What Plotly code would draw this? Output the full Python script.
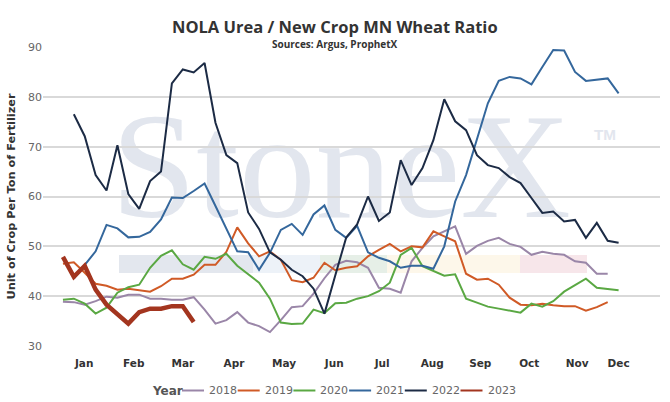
import base64
import plotly.graph_objects as go

# ---------------- data ----------------
weeks_2018 = list(range(1, 52))
y_2018 = [38.9, 38.8, 38.3, 39.0, 39.9, 39.7, 40.3, 40.3, 39.5, 39.5,
          39.3, 39.3, 39.8, 37.3, 34.5, 35.2, 36.8, 34.7, 34.0, 32.8,
          35.2, 37.8, 38.0, 40.5, 43.6, 46.3, 47.1, 46.8, 45.7, 41.7,
          41.5, 40.7, 47.0, 49.7, 52.0, 53.0, 54.0, 48.5, 50.1, 51.1,
          51.7, 50.5, 49.9, 48.3, 48.9, 48.5, 48.3, 47.0, 46.7, 44.5,
          44.5]

weeks_2019 = list(range(1, 52))
y_2019 = [46.5, 46.8, 44.7, 42.5, 42.1, 41.3, 41.5, 41.2, 40.9, 42.0,
          43.5, 43.5, 44.3, 46.3, 46.3, 48.9, 53.8, 50.6, 48.0, 49.0,
          47.3, 43.2, 42.8, 43.7, 46.7, 45.2, 45.7, 46.0, 48.0, 49.3,
          50.5, 49.0, 50.0, 49.8, 53.0, 52.0, 51.0, 44.5, 43.3, 43.5,
          42.3, 39.7, 38.3, 38.2, 38.5, 38.2, 38.0, 38.0, 37.1, 37.8,
          38.8]

weeks_2020 = list(range(1, 53))
y_2020 = [39.3, 39.5, 38.5, 36.5, 37.7, 40.7, 41.8, 42.3, 45.7, 48.1,
          49.2, 46.4, 45.3, 47.9, 47.5, 48.5, 46.1, 44.4, 42.7, 39.5,
          34.7, 34.4, 34.5, 37.3, 36.6, 38.6, 38.7, 39.5, 40.0, 41.0,
          42.7, 48.3, 49.7, 46.0, 45.0, 44.1, 44.4, 39.5, 38.7, 37.9,
          37.5, 37.1, 36.7, 38.5, 37.9, 39.0, 40.9, 42.2, 43.5, 41.7,
          41.5, 41.2]

weeks_2021 = list(range(2, 53))
y_2021 = [43.5, 46.3, 49.0, 54.3, 53.6, 51.8, 51.9, 52.9, 55.4, 59.8,
          59.7, 61.1, 62.6, 58.1, 53.6, 49.0, 48.8, 45.3, 48.7, 53.3,
          54.5, 52.3, 56.4, 58.2, 53.3, 51.7, 54.1, 48.8, 47.7, 47.0,
          45.7, 46.1, 46.1, 45.5, 50.0, 59.0, 64.3, 71.3, 78.7, 83.2,
          84.0, 83.7, 82.5, 86.0, 89.4, 89.3, 85.0, 83.2, 83.4, 83.7,
          80.7]

weeks_2022 = list(range(2, 53))
y_2022 = [76.5, 72.1, 64.3, 61.2, 70.3, 60.5, 57.5, 63.1, 65.0, 82.7,
          85.5, 84.9, 86.8, 74.8, 68.3, 66.7, 56.8, 53.5, 48.8, 47.3,
          45.3, 44.0, 41.5, 36.5, 44.2, 51.8, 54.4, 60.0, 55.1, 56.8,
          67.3, 62.3, 65.7, 71.3, 79.5, 75.1, 73.3, 68.3, 66.3, 65.7,
          63.9, 62.7, 59.7, 56.7, 57.0, 55.0, 55.3, 51.7, 54.7, 51.1,
          50.7]

weeks_2023 = list(range(1, 14))
y_2023 = [47.9, 43.9, 46.1, 41.3, 38.3, 36.5, 34.5, 36.8, 37.5, 37.5,
          38.0, 38.0, 34.8]

month_labels = ["Jan", "Feb", "Mar", "Apr", "May", "Jun",
                "Jul", "Aug", "Sep", "Oct", "Nov", "Dec"]
month_weeks = [2.95, 7.5, 12.0, 16.7, 21.3, 25.9, 30.3, 34.9, 39.3, 43.8, 48.2, 52.0]

y_ticks = [30, 40, 50, 60, 70, 80, 90]

series = [
    ("2018", weeks_2018, y_2018, "#9a86a8", 2),
    ("2019", weeks_2019, y_2019, "#d05a26", 2),
    ("2020", weeks_2020, y_2020, "#5aa843", 2),
    ("2021", weeks_2021, y_2021, "#34679c", 2),
    ("2022", weeks_2022, y_2022, "#1c2b45", 2),
    ("2023", weeks_2023, y_2023, "#a3351f", 4.5),
]

# ---------------- layout geometry (pixels) ----------------
W, H = 670, 402
ML, MR, MT, MB = 43, 10, 47, 56
PW, PH = W - ML - MR, H - MT - MB


def px_x(p):
    return (p - ML) / PW


def px_y(p):
    return (H - MB - p) / PH


# ---------------- figure ----------------
fig = go.Figure()
for name, xs, ys, color, w in series:
    fig.add_trace(go.Scatter(
        x=xs, y=ys, mode="lines", name=name,
        line=dict(color=color, width=w),
        hoverinfo="skip", showlegend=False,
    ))

# watermark (StoneX logo) as an inline SVG under the grid
svg = f'''<svg xmlns="http://www.w3.org/2000/svg" width="{PW}" height="{PH}" viewBox="0 0 {PW} {PH}" preserveAspectRatio="none">
<text x="68" y="170" font-family="Liberation Serif, DejaVu Serif, serif" font-size="150" fill="#e2e6ee" textLength="460" lengthAdjust="spacingAndGlyphs">StoneX</text>
<text x="551" y="93" font-family="Liberation Sans, Arial, sans-serif" font-size="15" font-weight="bold" fill="#e2e6ee" textLength="22" lengthAdjust="spacingAndGlyphs">TM</text>
<rect x="76" y="208" width="134" height="18" fill="#e3e7ee"/>
<rect x="210" y="208" width="67" height="18" fill="#edf2f8"/>
<rect x="277" y="208" width="67" height="18" fill="#e6efe7"/>
<rect x="344" y="208" width="133" height="18" fill="#fdf7ea"/>
<rect x="477" y="208" width="67" height="18" fill="#f7e6ea"/>
</svg>'''
src = "data:image/svg+xml;base64," + base64.b64encode(svg.encode("utf-8")).decode("ascii")
fig.add_layout_image(dict(
    source=src, xref="paper", yref="paper", x=0, y=1, sizex=1, sizey=1,
    xanchor="left", yanchor="top", sizing="stretch", layer="below", opacity=1,
))

annotations = [
    dict(text="<b>NOLA Urea / New Crop MN Wheat Ratio</b>", xref="paper", yref="paper",
         x=0.473, y=1.0, xanchor="center", yanchor="middle", showarrow=False,
         yshift=21, font=dict(family="Open Sans", size=16.5, color="#333333")),
    dict(text="<b>Sources: Argus, ProphetX</b>", xref="paper", yref="paper",
         x=0.473, y=1.0, xanchor="center", yanchor="middle", showarrow=False,
         yshift=3, font=dict(family="Open Sans", size=10, color="#333333")),
]
shapes = []

# legend ("Year" + one swatch per series), laid out like the reference
LEG_Y = px_y(390.5)
annotations.append(dict(
    text="<b>Year</b>", xref="paper", yref="paper", x=px_x(150), y=LEG_Y,
    xanchor="left", yanchor="middle", showarrow=False,
    font=dict(family="DejaVu Sans", size=12, color="#555555"),
))
for i, (name, xs, ys, color, w) in enumerate(series):
    x0 = 182 + 55.7 * i
    shapes.append(dict(
        type="line", xref="paper", yref="paper",
        x0=px_x(x0), x1=px_x(x0 + 22), y0=LEG_Y, y1=LEG_Y,
        line=dict(color=color, width=2),
    ))
    annotations.append(dict(
        text=name, xref="paper", yref="paper", x=px_x(x0 + 25), y=LEG_Y,
        xanchor="left", yanchor="middle", showarrow=False,
        font=dict(family="DejaVu Sans", size=11, color="#666666"),
    ))

fig.update_layout(
    width=W, height=H,
    margin=dict(l=ML, r=MR, t=MT, b=MB, autoexpand=False),
    paper_bgcolor="white",
    plot_bgcolor="rgba(0,0,0,0)",
    font=dict(family="DejaVu Sans", color="#666666", size=11),
    annotations=annotations,
    shapes=shapes,
    showlegend=False,
    xaxis=dict(
        range=[-0.83, 55.8], automargin=False,
        tickvals=month_weeks, ticktext=[f"<b>{m}</b>" for m in month_labels],
        tickfont=dict(family="DejaVu Sans", size=10.5, color="#333333"),
        ticks="outside", ticklen=7, tickcolor="rgba(0,0,0,0)",
        showgrid=False, zeroline=False, showline=False,
    ),
    yaxis=dict(
        range=[30, 90], tickvals=y_ticks, automargin=False,
        showgrid=True, gridcolor="#d9d9d9", gridwidth=1.5,
        zeroline=False, showline=False,
        tickfont=dict(family="DejaVu Sans", size=11, color="#666666"),
        title=dict(text="<b>Unit of Crop Per Ton of Fertilizer</b>",
                   font=dict(family="DejaVu Sans", size=11.3, color="#333333"),
                   standoff=10),
    ),
)

fig.write_html("out.html", config={"displayModeBar": False},
               post_script="document.body.style.margin='0';")
